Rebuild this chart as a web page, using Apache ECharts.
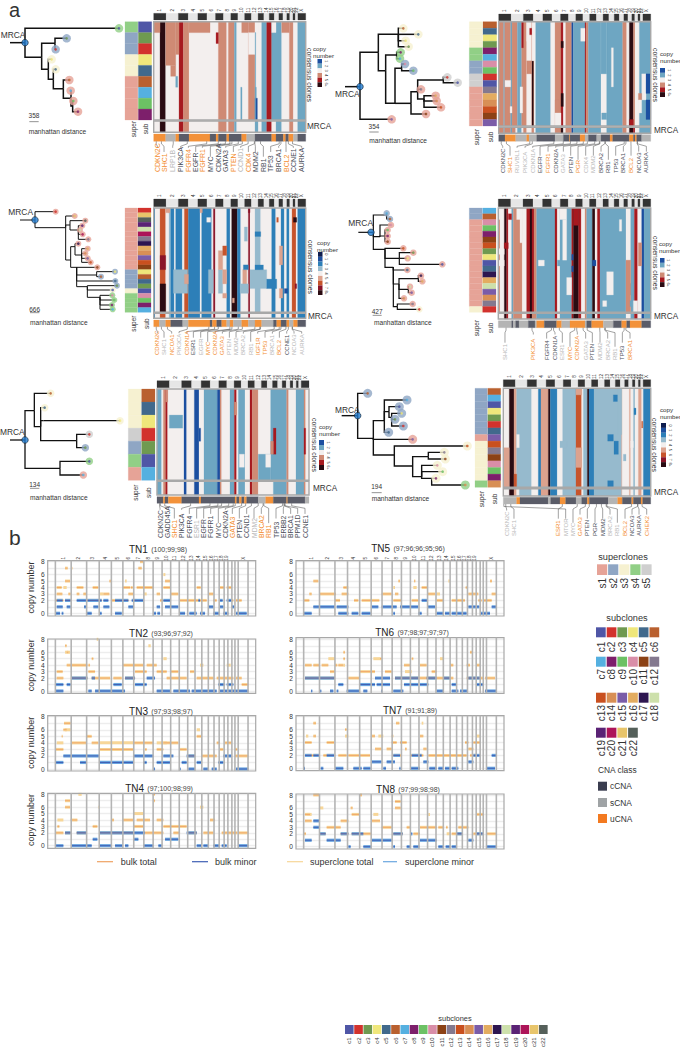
<!DOCTYPE html>
<html lang="en">
<head>
<meta charset="UTF-8">
<title>Copy number trees and heatmaps</title>
<style>
  * { margin: 0; padding: 0; }
  body { background: #fff; }
  #chart { width: 680px; height: 1050px; }
</style>
</head>
<body>
<div id="chart"></div>
<script src="https://cdn.jsdelivr.net/npm/echarts@6/dist/echarts.min.js"></script>
<script>
// genome
const chrNames = ['1','2','3','4','5','6','7','8','9','10','11','12','13','14','15','16','17','18','19','20','21','22','X'];
const chrLengths = [249,243,198,191,181,171,159,146,141,135,135,133,115,107,102,90,81,78,59,63,48,51,155];
// gene -> [chromosome index, Mb]
const genePos = {
  CDKN2C:[0,51], MTOR:[0,11], GADD45A:[0,68], SHC1:[0,154], NCOA1:[1,25], LRP1B:[1,141], RUVBL1:[2,128], PIK3CA:[2,178],
  FGFR4:[4,176], CDKN1A:[5,37], ESR1:[5,152], EGFR:[6,55], FGFR1:[7,38], MYC:[7,128], CDKN2A:[8,22], GATA3:[9,8], PTEN:[9,89],
  CCND1:[10,69], PGR:[10,101], CDK4:[11,58], MDM2:[11,69], BRCA2:[12,33], RB1:[12,48], IGF1R:[14,99], TP53:[16,7], ERBB2:[16,38],
  BRCA1:[16,41], PPM1D:[16,58], BCL2:[17,60], CCNE1:[18,30], NCOA3:[19,46], AURKA:[19,54], CHEK2:[21,29]
};

const subColors = [null,'#4f56a6','#d2322d','#6f9a50','#efe77b','#41698c','#b9602f','#55b0e0','#7d1f6b','#6cc164','#d98ea8','#8c4216',
  '#84798f','#c9501f','#d88f55','#7a5ca8','#e3ac60','#2d1650','#cde0ab','#5a2275','#ad1459','#e8c56b','#55605a'];
const superColors = [null,'#e6a397','#8fa6c4','#f6f1d1','#91cf86','#cfcfcf'];
const classColors = { c:'#5a5c68', s:'#b4b4b4', u:'#f3923a' };
const classCodes = ['c','s','u'];
const geneTextColors = { c:'#4a4d58', s:'#b8b8b8', u:'#f38d2f' };
const palA = { 1:'#1c4fa0', 2:'#6ea6c2', 3:'#f3efee', 4:'#cf8a74', 5:'#a6191f', 6:'#2a0b12' };
const palB = { 0:'#0f1d4f', 1:'#1e4f9e', 2:'#2d7fb8', 3:'#96bacd', 4:'#f3efee', 5:'#dca28e', 6:'#c7542c', 7:'#8a1428', 8:'#2a0b12' };
const palALabels = ['1','2','3','4','5','6+'];
const palBLabels = ['0','1','2','3','4','5','6','7','8+'];

// ---------- panel a: clone rows ----------
const a1Super = [4,2,2,3,3,1,1,1,1];
const a1Sub = [1,3,2,4,5,6,7,9,8];
const a2Super = [3,3,3,3,4,4,2,2,5,5,1,1,1,1,1,1];
const a2Sub = [6,5,4,3,8,7,10,9,2,1,12,16,14,13,11,15];
const a3Super = [1,1,1,1,1,1,1,1,1,1,1,1,1,2,2,2,2,3,4,4,4,4];
const a3Sub = [2,21,22,19,18,20,12,17,16,14,15,13,11,4,6,5,3,1,10,9,8,7];
const a4Super = [2,2,1,1,1,1,1,1,1,1,1,1,1,1,1,1,1,3];
const a4Sub = [7,6,10,9,8,11,13,3,4,1,5,17,16,18,15,14,12,2];
const a5Super = [3,3,3,5,2,4,1];
const a5Sub = [6,5,4,2,3,1,7];
const a6Super = [2,2,2,2,2,2,2,1,3,3,3,3,3,3,4];
const a6Sub = [6,7,1,4,3,2,5,15,13,12,11,10,9,8,14];

// copy number runs: [bin end, copy number]; edits: [first row, last row, bin start, bin end, copy number]
const a1Base = [[480,3],[497,6],[537,3],[550,5],[567,4],[655,3],[680,4],[685,3],[703,4],[710,2],[745,3],[765,4],[785,3],[800,2],[815,5],[845,2],[868,3],[880,4],[893,3],[917,2]];
const a1Mrca = [[480,3],[497,6],[537,3],[550,5],[567,4],[655,3],[680,4],[685,3],[703,4],[710,2],[765,3],[775,2],[785,3],[800,2],[815,5],[828,3],[845,2],[868,3],[880,4],[893,3],[917,2]];
const a1Edits = [[0,0,461,480,4],[0,3,497,527,4],[4,4,512,527,4],[0,2,527,537,4],[5,5,527,533,2],[0,0,567,630,4],[1,1,648,655,5],
  [0,0,725,745,4],[1,2,745,765,3],[6,8,722,726,2],[6,8,765,769,2],[7,8,765,772,1],[0,0,815,828,3],[0,0,845,868,4],[0,0,765,775,3],[1,8,765,767,2]];
const a1Class = [[497,2],[527,1],[537,2],[567,0],[630,2],[648,0],[655,2],[680,0],[687,2],[725,0],[740,2],[765,1],[815,0],[828,2],[850,0],[857,2],[866,0],[880,2],[893,1],[917,0]];
const a1Genes = ['CDKN2C','SHC1','LRP1B','PIK3CA','FGFR4','EGFR','FGFR1','MYC','CDKN2A','GATA3','PTEN','CCND1','CDK4','MDM2','RB1','TP53','BRCA1','BCL2','CCNE1','AURKA'];
const a1GeneX = [472,492,518,542,565,587,607,631,655,677,700,722,745,766,790,812,836,858,880,905];
const a1GeneClass = 'uuscucucccusuccccucc';

const a2Base = [[491,4],[494,2],[512,4],[516,2],[532,4],[545,2],[560,4],[575,3],[582,4],[587,3],[632,2],[645,3],[663,4],[670,5],[677,3],[695,4],[700,1],[735,2],[738,5],[745,4],[783,2],[800,3],[848,2],[860,4],[868,3],[880,6],[885,4],[898,3],[932,2]];
const a2Mrca = [[491,4],[494,2],[512,4],[516,2],[527,4],[532,3],[545,2],[550,3],[560,4],[575,3],[582,4],[587,3],[632,2],[645,3],[663,4],[670,6],[677,3],[695,4],[700,1],[735,2],[738,5],[745,4],[783,2],[800,3],[848,2],[860,4],[868,3],[880,6],[885,5],[898,3],[932,2]];
const a2Edits = [[9,9,495,512,3],[6,7,560,575,4],[1,1,566,580,5],[6,15,576,580,6],[0,5,576,582,3],[3,3,663,670,6],[11,12,663,670,6],[12,13,645,656,4],
  [14,15,645,663,3],[1,2,722,735,3],[0,7,783,800,2],[8,11,905,918,3],[8,10,918,932,1],[12,14,918,932,1],[11,11,895,905,4],[12,13,895,905,3],
  [15,15,868,880,5],[13,13,510,516,3],[0,3,545,550,5],[10,13,540,548,3],[14,14,785,800,2],[4,9,814,820,3],[0,2,560,568,3]];
const a2Class = [[495,0],[527,2],[560,1],[567,2],[590,1],[645,0],[670,1],[688,0],[690,2],[720,0],[735,2],[745,1],[770,0],[783,1],[810,0],[818,2],[868,0],[880,2],[885,0],[890,2],[905,0],[932,1]];
const a2Genes = ['CDKN2C','SHC1','RUVBL1','PIK3CA','CDKN1A','EGFR','FGFR1','CDKN2A','GATA3','PTEN','PGR','CDK4','MDM2','BRCA2','RB1','TP53','BRCA1','BCL2','NCOA3','AURKA'];
const a2GeneX = [488,510,531,555,578,600,624,647,670,692,714,737,760,783,805,827,850,873,896,919];
const a2GeneClass = 'cusssc' + 'ucscussc' + 'cccucc';

const a3Base = [[465,2],[480,4],[497,6],[507,4],[512,3],[523,2],[527,4],[547,2],[553,4],[565,6],[600,2],[605,4],[635,2],[640,4],[646,7],[680,4],[690,2],[695,4],[712,8],[722,2],[745,4],[750,7],[765,4],[782,3],[815,4],[827,2],[843,4],[853,2],[860,4],[868,2],[876,4],[888,6],[893,4],[917,2]];
const a3Mrca = [[465,2],[480,4],[497,6],[507,4],[512,3],[523,2],[527,4],[547,2],[553,4],[565,6],[600,2],[605,4],[635,2],[640,4],[646,7],[680,4],[690,2],[695,4],[712,8],[722,2],[745,4],[750,7],[782,4],[815,4],[827,2],[843,4],[853,2],[860,4],[868,2],[876,4],[888,6],[893,4],[917,2]];
const a3Edits = [[0,0,600,607,5],[0,0,497,507,5],[16,21,480,497,8],[10,12,480,497,7],[2,2,620,632,4],[13,17,520,563,3],[14,15,553,565,5],[13,17,625,640,3],
  [13,17,655,668,3],[9,12,655,668,5],[8,9,668,680,6],[13,15,668,680,5],[18,18,668,680,5],[13,16,728,740,5],[13,16,750,800,3],[12,12,765,790,2],
  [5,5,765,782,2],[4,6,733,742,3],[12,12,730,745,2],[16,17,720,745,3],[15,16,800,830,2],[17,17,853,863,1],[2,2,830,835,6],[2,2,880,890,8],[16,16,885,890,7],
  [8,11,838,848,5],[17,18,838,848,5],[19,19,697,703,5],[0,0,505,510,5],[0,0,745,750,7]];
const a3Class = [[478,2],[497,1],[512,2],[548,0],[565,1],[630,2],[637,0],[650,2],[665,0],[680,2],[690,1],[700,2],[725,1],[745,2],[765,1],[785,2],[820,1],[830,0],[843,2],[860,0],[868,2],[880,1],[893,2],[917,0]];
const a3Genes = ['CDKN2C','SHC1','NCOA1','PIK3CA','CDKN1A','ESR1','EGFR','MYC','CDKN2A','GATA3','PTEN','MDM2','BRCA2','RB1','IGF1R','TP53','BRCA1','BCL2','CCNE1','NCOA3','AURKA'];
const a3GeneX = [472,492,515,537,560,580,602,623,645,667,688,708,730,752,773,795,817,838,860,882,905];
const a3GeneClass = 'ususucsuuussssuusucss';

const a4Base = [[480,4],[493,3],[500,6],[505,5],[515,3],[520,2],[547,4],[560,3],[570,5],[576,6],[582,5],[590,4],[645,2],[652,5],[660,3],[695,2],[700,5],[716,6],[724,5],[735,3],[740,4],[757,2],[765,6],[772,3],[780,5],[858,2],[872,3],[883,2],[893,5],[905,3],[912,1],[932,2]];
const a4Mrca = [[493,3],[500,6],[505,5],[515,3],[520,2],[547,4],[560,3],[570,5],[576,6],[590,4],[645,2],[652,5],[660,3],[695,2],[700,5],[716,6],[724,5],[735,3],[740,4],[757,2],[765,6],[772,3],[780,5],[858,2],[872,3],[883,2],[893,5],[905,3],[912,1],[932,2]];
const a4Edits = [[0,1,475,480,3],[7,7,475,493,3],[9,9,475,493,3],[0,1,530,547,3],[9,9,595,613,3],[9,9,652,660,2],[0,1,660,680,3],[2,8,668,680,3],
  [8,8,695,700,1],[10,10,695,700,1],[0,2,700,716,5],[9,9,757,768,1],[11,14,800,820,3],[16,16,788,800,3],[2,3,838,845,3],[13,14,868,880,2],[6,9,895,905,4],
  [9,17,858,872,4],[16,16,870,880,2],[16,17,880,893,3],[0,5,540,547,3],[6,6,493,505,5],[1,1,505,515,5],[12,14,680,695,3]];
const a4Class = [[515,1],[520,0],[527,1],[537,0],[565,1],[585,0],[590,1],[613,2],[650,0],[665,2],[690,1],[735,2],[740,1],[755,0],[790,2],[820,1],[845,0],[860,2],[870,0],[905,2],[932,0]];
const a4Genes = ['SHC1','PIK3CA','FGFR4','CDKN1A','ESR1','MYC','CDKN2A','GATA3','PTEN','MDM2','BRCA2','RB1','TP53','BRCA1'];
const a4GeneX = [495,580,620,645,667,690,712,737,757,780,803,825,847,870];
const a4GeneClass = 'succsuuscssscu';

const a5Base = [[485,2],[490,3],[497,4],[503,5],[552,3],[560,1],[583,3],[597,1],[612,3],[652,2],[660,1],[665,4],[690,3],[703,2],[710,5],[715,3],[735,2],[750,3],[757,5],[775,4],[812,3],[860,2],[866,4],[888,3],[912,2],[917,4],[927,3]];
const a5Mrca = [[485,2],[490,3],[497,4],[503,5],[552,3],[560,1],[583,3],[597,1],[612,3],[652,2],[660,1],[665,4],[690,3],[703,2],[710,5],[715,3],[735,2],[750,3],[757,5],[775,4],[820,3],[860,2],[866,4],[888,3],[912,2],[917,4],[927,3]];
const a5Edits = [[0,0,497,503,4],[2,2,508,548,2],[3,3,597,602,1],[5,6,775,812,2],[5,5,797,812,3],[5,5,718,733,3],[3,4,820,828,5],[4,4,812,820,4],[3,4,912,917,5],[1,1,703,710,4]];
const a5Class = [[490,0],[495,2],[505,0],[545,2],[597,0],[603,2],[705,0],[710,2],[718,0],[725,2],[733,0],[740,2],[775,0],[797,1],[820,2],[860,0],[863,2],[915,0],[927,1]];
const a5Genes = ['CDKN2C','GADD45A','SHC1','PIK3CA','FGFR4','ESR1','EGFR','FGFR1','MYC','CDKN2A','GATA3','PTEN','CCND1','MDM2','BRCA2','RB1','TP53','ERBB2','BRCA1','PPM1D','CCNE1'];
const a5GeneX = [480,501,523,545,568,590,611,632,655,676,697,718,740,762,784,806,828,850,872,893,915];
const a5GeneClass = 'ccuccsccccuccsuuccccc';

const a6Base = [[508,4],[522,8],[530,5],[575,3],[595,4],[603,2],[625,5],[631,8],[652,2],[668,4],[708,3],[725,6],[730,4],[742,3],[747,8],[762,2],[845,3],[847,5],[868,4],[872,5],[880,4],[885,3],[895,4],[905,5],[910,4],[932,2]];
const a6Mrca = [[508,4],[522,8],[530,5],[538,4],[575,3],[595,4],[603,2],[625,5],[631,8],[652,2],[668,4],[708,3],[725,6],[730,4],[742,3],[747,8],[762,2],[845,3],[847,5],[868,4],[872,5],[880,4],[885,3],[895,4],[905,5],[910,4],[932,2]];
const a6Edits = [[9,14,490,508,5],[13,14,522,530,6],[7,8,530,538,4],[0,0,708,725,5],[9,11,708,725,5],[8,8,660,680,3],[7,7,803,820,2],[14,14,803,820,2],
  [1,1,820,835,2],[8,9,822,835,2],[10,10,850,858,3],[3,3,882,888,2],[8,8,872,880,4],[5,5,905,908,6],[0,6,833,845,3]];
const a6Class = [[530,1],[540,2],[625,0],[632,1],[660,0],[677,2],[708,0],[725,1],[742,0],[748,2],[805,0],[833,1],[847,2],[875,0],[880,2],[903,0],[908,2],[932,0]];
const a6Genes = ['CDKN2C','SHC1','ESR1','MTOR','MYC','GATA3','PTEN','PGR','MDM2','BRCA2','RB1','BCL2','NCOA3','AURKA','CHEK2'];
const a6GeneX = [500,522,655,677,699,720,742,765,788,810,832,855,876,897,920];
const a6GeneClass = 'ssussuccc' + 'ss' + 'uccu';

// trees: internal [distance, height, children], leaf [distance, height, superclone, subclone]
const tree1 = [75,128,[
  [357,85,4,1],
  [125,172,[
    [165,130,[[200,115,2,3],[167,148,2,2]]],
    [145,208,[[155,178,3,4],
      [160,238,[[167,208,3,5],
        [190,266,[[208,240,1,6],
          [213,295,[[212,272,1,7],
            [218,318,[[220,303,1,9],[234,335,1,8]]]]]]]]]]]]]]];
const tree2 = [60,260,[
  [115,157,[
    [175,103,[[190,85,3,6],[235,103,3,5],[197,122,3,4],[206,140,3,3]]],
    [137,212,[
      [170,165,[[182,157,4,8],[180,176,4,7]]],
      [165,310,[
        [185,205,[[195,192,2,10],[220,212,2,9]]],
        [213,310,[
          [233,275,[
            [310,240,[[322,232,5,2],[353,248,5,1]]],
            [243,268,1,12],
            [252,297,[[287,287,1,16],[290,303,1,14],[303,322,1,13]]]]],
          [258,342,1,11]]]]]]]]],
  [155,358,1,15]]];
const tree3 = [105,120,[
  [167,95,1,2],
  [197,143,[
    [224,108,1,21],
    [210,135,[[256,122,1,22],
      [235,150,[[247,137,1,19],[240,150,1,18],[248,163,1,20],[265,178,1,12]]]]],
    [212,240,[
      [225,200,[[235,191,1,17],
        [245,225,[[263,206,1,16],[256,220,1,14],[263,235,1,15],[272,247,1,13]]]]],
      [230,262,[[292,262,1,11],
        [290,285,[[345,275,2,4],[303,290,2,6]]],
        [270,303,[[346,303,2,5]]],
        [262,320,[[351,317,2,3],[338,330,3,1],
          [300,352,[[337,346,4,10],[343,360,4,9],[336,375,4,8],[338,388,4,7]]]]]]]]]]]]];
const tree4 = [93,157,[
  [100,157,[
    [140,105,[[140,100,2,7],[150,117,2,6]]],
    [120,170,[[153,135,1,10],
      [135,168,[[143,150,1,9],[143,168,1,8],[143,185,1,11]]]]],
    [135,208,[
      [190,205,1,13],
      [178,235,[[220,218,1,3],[203,235,1,4],[307,253,1,1]]],
      [160,262,[
        [202,270,1,5],
        [177,312,[
          [235,296,[[243,287,1,17],[247,304,1,16]]],
          [205,328,[[210,320,1,18],[215,338,1,15]]],
          [192,355,1,14]]],
        [172,380,[[218,372,1,12],[238,388,3,2]]]]]]]]]]];
const tree5 = [75,240,[
  [103,152,[
    [152,100,3,6],
    [122,200,[
      [134,143,3,5],
      [130,182,[[360,182,3,4]]],
      [230,242,[[268,223,5,2],[256,263,2,3]]]]]]],
  [180,325,[[268,304,4,1],[250,345,1,7]]]]];
const tree6 = [53,167,[
  [83,100,2,6],
  [100,235,[
    [133,182,[
      [201,120,2,7],
      [147,155,[[178,140,2,1],[155,172,[[185,160,2,4],[165,178,2,3],[190,198,2,2]]]]],
      [146,217,2,5]]],
    [218,238,1,15],
    [163,285,[
      [382,258,3,13],
      [218,318,[
        [265,290,[[313,277,3,12],[316,297,3,11]]],
        [245,350,[[292,316,3,10],[308,335,3,9],
          [275,355,[[288,355,3,8],[376,375,4,14]]]]]]]]]]]]];

// ---------- panel b: segments [bin start, bin end, copy number] ----------
const tn1Total = [[170,187,3],[205,212,3],[230,238,3],[250,258,3],[310,328,3],[385,400,3],[470,480,3],[510,535,3],[625,640,3],[170,185,4],[230,250,4],[278,295,4],[368,390,4],[392,398,4],[410,460,4],[490,512,4],[590,602,4],[660,672,4],[680,695,4],[168,190,2],[195,212,2],[258,305,2],[335,345,2],[345,385,2],[398,410,2],[480,490,2],[540,620,2],[640,650,2],[695,700,2],[708,725,2],[195,210,5],[495,510,5],[195,203,7],[213,217,7],[415,425,7],[420,430,8],[328,334,5]];
const tn1Minor = [[170,188,2],[195,212,2],[230,258,2],[262,305,2],[310,325,2],[345,385,2],[395,430,2],[490,510,2],[595,600,2],[660,668,2],[680,695,2],[170,188,1],[200,212,1],[252,258,1],[280,295,1],[310,328,1],[385,400,1],[470,480,1],[495,535,1],[625,640,1],[660,670,1],[695,703,1],[165,180,0],[185,190,0],[260,275,0],[298,305,0],[345,365,0],[460,468,0],[472,480,0],[540,555,0],[568,590,0],[600,615,0],[640,658,0],[670,685,0],[708,740,0]];
const tn2Total = [[200,262,4],[265,270,4],[368,430,4],[440,470,4],[170,188,3],[265,285,3],[405,440,3],[470,500,3],[510,535,3],[570,583,3],[170,190,2],[215,262,2],[275,330,2],[340,365,2],[375,405,2],[500,560,2],[590,640,2],[650,700,2],[708,725,2],[275,280,5],[200,205,6],[195,200,7],[725,745,1]];
const tn2Minor = [[215,262,2],[275,285,2],[375,405,2],[440,465,2],[165,190,1],[200,212,1],[340,365,1],[405,440,1],[655,675,1],[680,700,1],[168,190,0],[265,275,0],[285,375,0],[470,510,0],[520,570,0],[575,650,0],[660,745,0]];
const tn3Total = [[192,212,7],[165,190,3],[300,400,3],[435,440,3],[470,490,3],[540,560,3],[660,670,3],[705,712,3],[213,258,4],[275,295,4],[400,460,4],[490,535,4],[650,660,4],[675,695,4],[260,275,5],[590,603,5],[565,585,2],[605,650,2],[705,745,2],[190,200,6],[185,188,5]];
const tn3Minor = [[190,258,2],[258,298,2],[400,460,2],[490,520,2],[560,585,2],[670,695,2],[165,190,1],[240,258,1],[298,400,1],[430,440,1],[470,510,1],[545,560,1],[590,605,1],[655,670,1],[460,465,0],[538,542,0],[565,585,0],[610,625,0],[635,650,0],[708,745,0]];
const tn4Total = [[165,190,2],[195,212,2],[230,260,2],[298,400,2],[435,490,2],[520,540,2],[565,590,2],[610,640,2],[665,712,2],[715,745,2],[278,292,3],[400,430,3],[490,560,3],[212,232,4],[335,342,4],[368,400,4],[410,450,4],[470,490,4],[630,645,4],[195,210,7],[195,210,6],[460,465,7],[458,465,8],[172,178,3]];
const tn4Minor = [[195,212,2],[230,260,2],[298,400,2],[400,435,2],[560,590,2],[278,292,1],[400,415,1],[495,535,1],[168,190,0],[215,275,0],[298,335,0],[345,368,0],[375,385,0],[430,460,0],[475,485,0],[590,605,0],[610,625,0],[640,660,0],[665,680,0],[715,745,0]];
const tn5Total = [[72,88,2],[165,180,2],[222,235,2],[245,298,2],[340,365,2],[395,415,2],[470,490,2],[515,555,2],[595,605,2],[612,635,2],[88,95,3],[118,168,3],[185,205,3],[305,335,3],[345,355,3],[441,465,3],[565,595,3],[635,648,3],[190,200,4],[425,441,4],[100,115,5],[355,360,5],[402,406,5],[630,636,5],[557,562,4]];
const tn5Minor = [[100,165,1],[170,205,1],[275,295,1],[305,350,1],[360,415,1],[441,465,1],[565,598,1],[635,648,1],[425,441,2],[72,95,0],[175,205,0],[215,235,0],[245,272,0],[340,345,0],[415,425,0],[470,490,0],[495,510,0],[515,560,0],[600,630,0]];
const tn6Total = [[75,95,4],[100,118,4],[125,145,4],[165,172,4],[175,190,4],[372,392,4],[420,440,4],[510,520,4],[560,570,4],[590,600,4],[75,165,2],[205,240,2],[345,470,2],[470,520,2],[560,610,2],[615,645,2],[150,165,3],[240,285,3],[315,335,3],[455,470,3],[190,195,5],[300,305,5],[395,400,5],[190,195,6],[570,578,6]];
const tn6Minor = [[75,165,2],[285,330,2],[345,415,2],[440,470,2],[490,510,2],[565,600,2],[175,190,1],[240,285,1],[290,330,1],[372,415,1],[420,445,1],[515,530,1],[590,610,1],[93,97,0],[120,124,0],[150,160,0],[170,175,0],[200,240,0],[250,262,0],[303,307,0],[340,370,0],[470,490,0],[515,535,0],[540,562,0],[615,650,0]];
const tn7Total = [[75,95,4],[118,120,4],[140,162,4],[335,350,4],[360,380,4],[555,565,4],[580,602,4],[80,118,2],[130,162,2],[175,200,2],[205,270,2],[340,365,2],[390,430,2],[445,560,2],[570,590,2],[285,305,3],[320,335,3],[375,380,3],[430,440,3],[565,580,3],[275,285,5],[100,108,5],[335,340,5],[420,430,5],[195,200,6],[100,108,7],[348,358,7]];
const tn7Minor = [[75,95,2],[100,118,2],[140,162,2],[340,360,2],[395,425,2],[580,600,2],[635,648,2],[275,305,1],[320,345,1],[430,445,1],[565,580,1],[72,75,0],[122,130,0],[165,190,0],[220,245,0],[250,272,0],[310,318,0],[358,362,0],[390,420,0],[448,470,0],[475,490,0],[495,510,0],[515,535,0],[620,645,0]];
const tn8Total = [[140,182,3],[305,335,3],[380,392,3],[420,470,3],[475,490,3],[498,503,3],[535,565,3],[75,95,4],[182,205,4],[275,300,4],[215,238,5],[590,612,5],[72,78,2],[120,137,2],[182,205,2],[215,275,2],[340,368,2],[400,420,2],[515,530,2],[530,548,2],[580,610,2],[620,650,2],[345,362,6],[345,362,7],[212,218,6],[100,118,8],[240,246,8],[75,90,5]];
const tn8Minor = [[75,95,1],[140,182,1],[275,335,1],[420,470,1],[565,580,1],[120,137,2],[182,205,2],[215,250,2],[340,368,2],[393,397,2],[530,548,2],[590,610,2],[100,118,3],[100,118,4],[205,212,0],[250,275,0],[340,345,0],[380,392,0],[400,418,0],[475,490,0],[497,510,0],[515,528,0],[620,650,0]];
// pale superclone-only pieces
const tn1Pale = [[190,200,4],[432,440,3],[300,310,3],[375,380,5],[490,496,6]];
const tn2Pale = [[195,210,6],[290,295,8],[490,500,5],[445,452,7],[600,610,4],[680,692,4]];
const tn3Pale = [[195,212,6],[170,190,4],[300,400,4],[590,600,6],[470,500,4]];
const tn4Pale = [[172,190,4],[235,245,8],[400,430,5],[295,300,6],[600,610,6]];
const tn5Pale = [[195,205,4],[340,345,4],[400,410,4],[505,510,5],[470,480,3]];
const tn6Pale = [[145,165,5],[190,195,4],[280,300,5],[375,395,3],[480,490,5]];
const tn7Pale = [[78,85,5],[195,205,5],[295,310,5],[425,430,7],[590,600,5]];
const tn8Pale = [[80,95,5],[120,130,6],[280,295,5],[500,510,2],[445,450,5]];

const tnNames = ['TN1','TN2','TN3','TN4','TN5','TN6','TN7','TN8'];
const tnPurity = ['(100;99;98)','(93;96;97;92)','(97;93;98;97)','(97;100;98;99)','(97;96;96;95;96)','(97;98;97;97;97)','(91;91;89)','(97;99;98;98)'];
const tnTotals = [tn1Total,tn2Total,tn3Total,tn4Total,tn5Total,tn6Total,tn7Total,tn8Total];
const tnMinors = [tn1Minor,tn2Minor,tn3Minor,tn4Minor,tn5Minor,tn6Minor,tn7Minor,tn8Minor];
const tnPales = [tn1Pale,tn2Pale,tn3Pale,tn4Pale,tn5Pale,tn6Pale,tn7Pale,tn8Pale];

// ---------- layout ----------
const FONT = '"Liberation Sans", Arial, sans-serif';
const TXT = '#333';
const heatPanels = [
  { ox:0, oy:0, side:[125,151.7], x:[153.7,305.7], y:[21.7,120], mrca:[121,132.3], cls:[134,141.3], chr:[13.3,20], bins:[461,917], geneBottom:172, geneFont:7,
    pal:palA, palLabels:palALabels, sup:a1Super, sub:a1Sub, base:a1Base, mrcaRuns:a1Mrca, edits:a1Edits, clsRuns:a1Class, genes:a1Genes, geneX:a1GeneX, geneClass:a1GeneClass,
    tree:tree1, stub:30, halo:8.5, lw:1.5, scale:['358',88,116,365,347,86,395], mrcaText:[2,105],
    supText:[133,145,129], cons:[309,75], copy:[313,48], swatch:[317.5,59,4.5,28], mrcaLabel:[307,126.5] },
  { ox:340, oy:0, side:[469.3,496.7], x:[498.7,650.7], y:[21.7,126], mrca:[127.3,133.3], cls:[134.7,141.3], chr:[14,20.7], bins:[476,932], geneBottom:173, geneFont:6,
    pal:palA, palLabels:palALabels, sup:a2Super, sub:a2Sub, base:a2Base, mrcaRuns:a2Mrca, edits:a2Edits, clsRuns:a2Class, genes:a2Genes, geneX:a2GeneX, geneClass:a2GeneClass,
    tree:tree2, stub:15, halo:8.5, lw:1.5, scale:['354',88,116,396,380,88,420], mrcaText:[-15,283],
    supText:[476.7,490,137], cons:[655,75], copy:[660,53], swatch:[660,68,5,29], mrcaLabel:[654,130.5] },
  { ox:0, oy:180, side:[125,151], x:[153.7,305.7], y:[208,312.3], mrca:[313.3,318.3], cls:[320,326.7], chr:[199,206.7], bins:[461,917], geneBottom:355, geneFont:6,
    pal:palB, palLabels:palBLabels, sup:a3Super, sub:a3Sub, base:a3Base, mrcaRuns:a3Mrca, edits:a3Edits, clsRuns:a3Class, genes:a3Genes, geneX:a3GeneX, geneClass:a3GeneClass,
    tree:tree3, stub:60, halo:6, lw:1, scale:['666',90,118,398,387,90,427], mrcaText:[25,97],
    supText:[133,146,323.7], cons:[310,267], copy:[317,242], swatch:[318,252,4.5,43], mrcaLabel:[308,316] },
  { ox:340, oy:180, side:[469.3,496], x:[498.3,650.7], y:[208,312.3], mrca:[313.3,319], cls:[320.7,327.7], chr:[199,206.7], bins:[475,932], geneBottom:360, geneFont:6,
    pal:palA, palLabels:palALabels, sup:a4Super, sub:a4Sub, base:a4Base, mrcaRuns:a4Mrca, edits:a4Edits, clsRuns:a4Class, genes:a4Genes, geneX:a4GeneX, geneClass:a4GeneClass,
    tree:tree4, stub:55, halo:6.5, lw:1.2, scale:['427',98,125,406,393,102,427], mrcaText:[25,130],
    supText:[476.7,490,328], cons:[655,263], copy:[659,243], swatch:[660,258,4.5,29], mrcaLabel:[654,316.5] },
  { ox:0, oy:360, side:[128.3,155], x:[157,309], y:[389,480.3], mrca:[481.3,495], cls:[496.7,503.3], chr:[380.7,387.7], bins:[471,927], geneBottom:538, geneFont:6.8,
    pal:palA, palLabels:palALabels, sup:a5Super, sub:a5Sub, base:a5Base, mrcaRuns:a5Mrca, edits:a5Edits, clsRuns:a5Class, genes:a5Genes, geneX:a5GeneX, geneClass:a5GeneClass,
    tree:tree5, stub:30, halo:7.5, lw:1.3, scale:['134',90,118,385,372,90,413], mrcaText:[0,215],
    supText:[135,148,492.7], cons:[314,445], copy:[319,426], swatch:[319,440,5,30], mrcaLabel:[313,488] },
  { ox:340, oy:360, side:[475,500.7], x:[503.3,650.7], y:[388.3,487.3], mrca:[488.7,496], cls:[497.3,504], chr:[379.7,386.7], bins:[490,932], geneBottom:536, geneFont:6,
    pal:palB, palLabels:palBLabels, sup:a6Super, sub:a6Sub, base:a6Base, mrcaRuns:a6Mrca, edits:a6Edits, clsRuns:a6Class, genes:a6Genes, geneX:a6GeneX, geneClass:a6GeneClass,
    tree:tree6, stub:5, halo:9, lw:1.4, scale:['194',95,125,398,380,95,415], mrcaText:[-15,150],
    supText:[481,494,499], cons:[654,445], copy:[660,409], swatch:[661,423,5,44], mrcaLabel:[654,492.5] }
];
const cnPanels = [
  { x:[47.7,255.7], frame:[560.7,616], y:[561.7,613.3], bins:[143,767], title:[158,549], left:true, chrLabels:true },
  { x:[47.7,255.7], frame:[639,693.3], y:[639.3,691], bins:[143,767], title:[161,633], left:true },
  { x:[47.7,255.7], frame:[715.7,771], y:[716.7,769], bins:[143,767], title:[161,711], left:true },
  { x:[47.7,255.7], frame:[793.3,848.3], y:[794.3,845.7], bins:[143,767], title:[159,788], left:true },
  { x:[296,504], frame:[560.7,616], y:[561.7,613.3], bins:[48,672], title:[408,548], chrLabels:true },
  { x:[296,504], frame:[637.7,693.3], y:[639.3,691], bins:[48,672], title:[412,632] },
  { x:[296,504], frame:[715.7,770.7], y:[716.7,768.3], bins:[48,672], title:[410,710.7] },
  { x:[296,504], frame:[794,849], y:[795,846.7], bins:[48,672], title:[408,789] }
];

// ---------- option builders ----------
const grids = [], xAxes = [], yAxes = [], series = [], graphics = [];

function addGrid(xr, yr, xRange, yRange, inverse, border) {
  grids.push({ left:xr[0], top:yr[0], width:xr[1]-xr[0], height:yr[1]-yr[0], containLabel:false,
    show:!!border, z:5, backgroundColor:'transparent', borderColor:'#a8a8a8', borderWidth:border || 0 });
  const i = grids.length - 1;
  xAxes.push({ type:'value', gridIndex:i, min:xRange[0], max:xRange[1], show:false, splitLine:{show:false} });
  yAxes.push({ type:'value', gridIndex:i, min:yRange[0], max:yRange[1], inverse:!!inverse, show:false, splitLine:{show:false} });
  return i;
}
function rectSeries(g, data, colorOf, name) {
  series.push({ type:'custom', name, xAxisIndex:g, yAxisIndex:g, data, silent:true, animation:false, encode:{x:[0,1],y:[2,3]},
    renderItem:(p, api) => {
      const a = api.coord([api.value(0), api.value(2)]), b = api.coord([api.value(1), api.value(3)]);
      const fill = colorOf(api.value(4));
      return { type:'rect', shape:{x:a[0], y:Math.min(a[1],b[1]), width:b[0]-a[0], height:Math.abs(b[1]-a[1])}, style:{fill, stroke:fill, lineWidth:0.25} };
    } });
}
function runs(list, start, y0, y1) {
  let x = start;
  return list.map(r => { const d = [x, r[0], y0, y1, r[1]]; x = r[0]; return d; });
}
function chrBoundaries(b0, b1) {
  const total = chrLengths.reduce((s,v)=>s+v,0); let cum = 0;
  return chrLengths.map((l,i) => { const d = [b0 + cum/total*(b1-b0), b0 + (cum+l)/total*(b1-b0), 0, 1, i%2]; cum += l; return d; });
}
function geneBin(name, bins) {
  const total = chrLengths.reduce((s,v)=>s+v,0), g = genePos[name];
  const cum = chrLengths.slice(0,g[0]).reduce((s,v)=>s+v,0);
  return bins[0] + (cum+g[1])/total*(bins[1]-bins[0]);
}
function label(text, x, y, size, rot, align, fill, extra) {
  graphics.push(Object.assign({ type:'text', x, y, rotation:rot||0, silent:true, z:20,
    style:{ text, fontSize:size, fontFamily:FONT, fill:fill||TXT, align:align||'left', verticalAlign:'middle' } }, extra||{}));
}
function swatch(x, y, w, h, fill) {
  graphics.push({ type:'rect', shape:{x,y,width:w,height:h}, silent:true, z:20, style:{fill} });
}
function hline(x0, x1, y, stroke, lw) {
  graphics.push({ type:'line', shape:{x1:x0,y1:y,x2:x1,y2:y}, silent:true, z:20, style:{stroke, lineWidth:lw} });
}
function flattenTree(n, parent, edges, leaves) {
  if (parent) edges.push([parent[0], parent[1], n[0], n[1]]);
  if (Array.isArray(n[2])) n[2].forEach(c => flattenTree(c, n, edges, leaves));
  else leaves.push(n);
}

// ---------- panel a ----------
heatPanels.forEach(P => {
  const rows = P.sub.length, B = P.bins;
  // tree
  const t = addGrid([P.ox, P.ox+135], [P.oy, P.oy+180], [0,405], [0,540], true);
  const edges = [[P.stub, P.tree[1], P.tree[0], P.tree[1]]], leaves = [];
  flattenTree(P.tree, null, edges, leaves);
  series.push({ type:'custom', name:'tree', xAxisIndex:t, yAxisIndex:t, data:edges, silent:true, animation:false, encode:{x:[0,2],y:[1,3]},
    renderItem:(p, api) => {
      const a = api.coord([api.value(0),api.value(1)]), c = api.coord([api.value(0),api.value(3)]), d = api.coord([api.value(2),api.value(3)]);
      const same = api.value(1) === api.value(3);
      return { type:'polyline', shape:{points: same ? [a,d] : [a,c,d]}, style:{stroke:'#111', lineWidth:P.lw, fill:null, lineJoin:'miter'} };
    } });
  series.push({ type:'scatter', xAxisIndex:t, yAxisIndex:t, silent:true, animation:false, z:3, symbolSize:P.halo,
    data:leaves.map(l => ({ value:[l[0],l[1]], itemStyle:{color:superColors[l[2]]} })) });
  series.push({ type:'scatter', xAxisIndex:t, yAxisIndex:t, silent:true, animation:false, z:4, symbolSize:2.6,
    data:leaves.map(l => ({ value:[l[0],l[1]], itemStyle:{color:subColors[l[3]]} })) });
  series.push({ type:'scatter', xAxisIndex:t, yAxisIndex:t, silent:true, animation:false, z:4, symbolSize:6.5,
    data:[[P.tree[0],P.tree[1]]], itemStyle:{color:'#1f7bd0', borderColor:'#123', borderWidth:0.8} });
  const sc = P.scale;
  hline(P.ox+sc[1]/3, P.ox+sc[2]/3, P.oy+sc[3]/3, '#777', 0.8);
  label(sc[0], P.ox+(sc[1]+sc[2])/6, P.oy+sc[4]/3, 6.5, 0, 'center');
  label('manhattan distance', P.ox+sc[5]/3, P.oy+sc[6]/3, 6.6);
  label('MRCA', P.ox+P.mrcaText[0]/3, P.oy+P.mrcaText[1]/3, 8.4);

  // superclone / subclone colour columns
  const s = addGrid(P.side, P.y, [0,2], [0,rows], true);
  rectSeries(s, P.sup.map((v,i)=>[0,0.96,i,i+1,v]), v=>superColors[v], 'super');
  rectSeries(s, P.sub.map((v,i)=>[1,2,i,i+1,v]), v=>subColors[v], 'sub');
  label('super', P.supText[0], P.supText[2], 6.5, Math.PI/2, 'center');
  label('sub', P.supText[1], P.supText[2], 6.5, Math.PI/2, 'center');

  // chromosome strip
  const c = addGrid(P.x, P.chr, B, [0,1], true);
  const bounds = chrBoundaries(B[0], B[1]);
  rectSeries(c, bounds, v=>v ? '#e6e6e6' : '#333', 'chromosomes');
  series.push({ type:'custom', name:'chromosome labels', xAxisIndex:c, yAxisIndex:c, data:bounds, silent:true, animation:false, encode:{x:[0,1]},
    renderItem:(p, api) => {
      const m = api.coord([(api.value(0)+api.value(1))/2, 0]);
      return { type:'text', x:m[0], y:m[1]-3.2, rotation:Math.PI/2, style:{text:chrNames[p.dataIndex], fontSize:4.6, fontFamily:FONT, fill:'#333', align:'center', verticalAlign:'middle'} };
    } });

  // heatmap and MRCA row
  const h = addGrid(P.x, P.y, B, [0,rows], true, 1.4);
  rectSeries(h, runs(P.base, B[0], 0, rows).concat(P.edits.map(e=>[e[2],e[3],e[0],e[1]+1,e[4]])), v=>P.pal[v], 'consensus clones');
  const m = addGrid(P.x, P.mrca, B, [0,1], true, 1.4);
  rectSeries(m, runs(P.mrcaRuns, B[0], 0, 1), v=>P.pal[v], 'MRCA');
  label('MRCA', P.mrcaLabel[0], P.mrcaLabel[1], 8.2);

  // CNA class strip with gene labels
  const k = addGrid(P.x, P.cls, B, [0,1], true);
  rectSeries(k, runs(P.clsRuns, B[0], 0, 1), v=>classColors[classCodes[v]], 'CNA class');
  const gData = P.genes.map((g,i)=>[P.geneX[i], geneBin(g,B)]);
  series.push({ type:'custom', name:'genes', xAxisIndex:k, yAxisIndex:k, data:gData, silent:true, animation:false, encode:{x:[0,1]},
    renderItem:(p, api) => {
      const name = P.genes[p.dataIndex], cl = P.geneClass[p.dataIndex] || 'c';
      const lx = api.coord([api.value(0),1]), gx = api.coord([api.value(1),1]);
      const yb = lx[1], top = Math.max(yb+6.5, P.geneBottom - name.length*P.geneFont*0.68 - 1);
      return { type:'group', children:[
        { type:'polyline', shape:{points:[[gx[0],yb],[gx[0],yb+2.5],[lx[0],yb+5],[lx[0],top]]}, style:{stroke:'#444', lineWidth:0.5, fill:null} },
        { type:'text', x:lx[0], y:P.geneBottom, rotation:Math.PI/2, style:{text:name, fontSize:P.geneFont, fontFamily:FONT, fill:geneTextColors[cl], align:'left', verticalAlign:'middle'} }
      ]};
    } });

  // copy number key
  label('consensus clones', P.cons[0], P.cons[1], 6.8, -Math.PI/2, 'center');
  label('copy', P.copy[0], P.copy[1], 6.2);
  label('number', P.copy[0], P.copy[1]+7, 6.2);
  const [kx, ky, kw, kh] = P.swatch, keys = Object.keys(P.pal);
  keys.forEach((cn,i) => {
    swatch(kx, ky+i*kh/keys.length, kw, kh/keys.length, P.pal[cn]);
    label(P.palLabels[i], kx+kw+3.5, ky+(i+0.5)*kh/keys.length, 3.8, -Math.PI/2, 'center');
  });
});

// ---------- panel b ----------
cnPanels.forEach((P,i) => {
  const B = P.bins, pad = 23;
  const bounds = chrBoundaries(B[0]+pad, B[1]-pad);
  // y axis: exact 0..8 grid
  grids.push({ left:P.x[0], top:P.y[0], width:P.x[1]-P.x[0], height:P.y[1]-P.y[0], containLabel:false });
  const g = grids.length-1;
  xAxes.push({ type:'value', gridIndex:g, min:B[0], max:B[1], show:false, splitLine:{show:false} });
  yAxes.push({ type:'value', gridIndex:g, min:0, max:8, interval:1, axisLine:{show:false}, axisTick:{show:false},
    axisLabel:{fontSize:6.6, fontFamily:FONT, color:'#333', margin:3, showMinLabel:true, showMaxLabel:true, hideOverlap:false},
    splitLine:{show:true, lineStyle:{color:'#ededed', width:1.4}} });
  const lineSeries = (name, data, color, w, z) => series.push({ type:'custom', name, xAxisIndex:g, yAxisIndex:g, data, silent:true, animation:false, z, encode:{x:[0,1],y:2},
    renderItem:(p, api) => {
      const a = api.coord([api.value(0),api.value(2)]), b = api.coord([api.value(1),api.value(2)]);
      return { type:'line', shape:{x1:a[0],y1:a[1],x2:b[0],y2:b[1]}, style:{stroke:color, lineWidth:w} };
    } });
  lineSeries('superclone total', tnTotals[i].concat(tnPales[i]), '#f7d698', 3, 3);
  lineSeries('superclone minor', tnMinors[i], '#6aa6df', 3.2, 3);
  lineSeries('bulk total', tnTotals[i], '#efa262', 0.9, 4);
  lineSeries('bulk minor', tnMinors[i], '#3f5fb4', 1, 4);

  // chromosome separators and frame
  const f = addGrid(P.x, P.frame, B, [0,1], true, 1.2);
  series.push({ type:'custom', name:'chromosome separators', xAxisIndex:f, yAxisIndex:f, data:bounds, silent:true, animation:false, z:5, encode:{x:[0,1]},
    renderItem:(p, api) => {
      const a = api.coord([api.value(0),0]), b = api.coord([api.value(0),1]);
      const kids = [{ type:'line', shape:{x1:a[0],y1:a[1],x2:a[0],y2:b[1]}, style:{stroke:'#b4b4b4', lineWidth:1.6} }];
      if (p.dataIndex === 22) {
        const e = api.coord([api.value(1),0]);
        kids.push({ type:'line', shape:{x1:e[0],y1:e[1],x2:e[0],y2:b[1]}, style:{stroke:'#b4b4b4', lineWidth:1.6} });
      }
      if (P.chrLabels && (p.dataIndex < 19 || p.dataIndex === 22)) {
        const m = api.coord([(api.value(0)+api.value(1))/2,0]);
        kids.push({ type:'text', x:m[0], y:m[1]-2.6, rotation:Math.PI/2, style:{text:chrNames[p.dataIndex], fontSize:4.6, fontFamily:FONT, fill:'#333', align:'center', verticalAlign:'middle'} });
      }
      return { type:'group', children:kids };
    } });

  graphics.push({ type:'text', x:P.title[0], y:P.title[1], silent:true, z:20,
    style:{ text:'{a|'+tnNames[i]+'} {b|'+tnPurity[i]+'}', align:'center', verticalAlign:'middle', fontFamily:FONT,
      rich:{ a:{fontSize:10, fontFamily:FONT, fill:'#222'}, b:{fontSize:7, fontFamily:FONT, fill:'#444'} } } });
  if (P.left) label('copy number', 31, (P.y[0]+P.y[1])/2, 9, Math.PI/2, 'center');
});

// bottom legend of b
[['bulk total','#efa262',97,113,120.7],['bulk minor','#3f5fb4',192,208,215],['superclone total','#f7d698',287,303,310],['superclone minor','#6aa6df',383,397,405]]
  .forEach(l => { hline(l[2], l[3], 861.7, l[1], 1.2); label(l[0], l[4], 861.7, 9); });

// right-hand keys
label('a', 9, 10, 20); label('b', 9, 537, 21);
label('superclones', 623, 557, 9.2, 0, 'center');
[1,2,3,4,5].forEach((s,i) => {
  swatch(597+i*11.1, 564.3, 10.2, 10.7, superColors[s]);
  label('s'+s, 602+i*11.1, 578, 10, Math.PI/2, 'right');
});
label('subclones', 627, 618, 9.2, 0, 'center');
[[1,6,627.3,641.7],[7,6,656.7,669],[13,6,692.7,705],[19,4,727.7,740]].forEach(r => {
  for (let i = 0; i < r[1]; i++) {
    swatch(596+i*10.7, r[2], 9.7, 10, subColors[r[0]+i]);
    label('c'+(r[0]+i), 601+i*10.7, r[3], 10, Math.PI/2, 'right');
  }
});
label('CNA class', 598, 770, 8.4);
[['cCNA','#3a3d4f',781.7],['sCNA','#9fa3a5',798],['uCNA','#f37a20',814]].forEach(c => {
  swatch(598, c[2], 9, 9, c[1]);
  label(c[0], 610, c[2]+4.5, 8.4);
});
label('subclones', 455, 1018, 7.4, 0, 'center');
for (let i = 1; i <= 22; i++) {
  swatch(345+(i-1)*9.24, 1025, 8.6, 9, subColors[i]);
  label('c'+i, 349.3+(i-1)*9.24, 1037.3, 6, Math.PI/2, 'right');
}

const chart = echarts.init(document.getElementById('chart'), null, { renderer:'svg' });
chart.setOption({
  animation:false, backgroundColor:'#fff', tooltip:{show:false},
  grid:grids, xAxis:xAxes, yAxis:yAxes, series, graphic:{elements:graphics}
});
</script>
</body>
</html>
